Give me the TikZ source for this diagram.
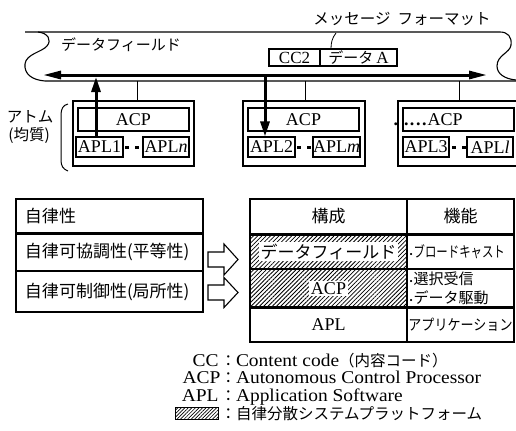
\documentclass[tikz,border=0pt]{standalone}
\usepackage{fontspec}
\setmainfont{Liberation Serif}
\newfontfamily\jp{Noto Sans CJK JP}
\usetikzlibrary{arrows.meta,patterns.meta}
\newcommand\fsz[1]{\fontsize{#1bp}{#1bp}\selectfont}
\begin{document}
\begin{tikzpicture}[x=1bp,y=-1bp,line width=1bp,
  box/.style={draw,line width=1.1bp,inner sep=0pt},
  lat/.style={font=\fsz{18}},
  jtxt/.style={font=\jp\fsz{#1}},
  bigarr/.style={line width=3bp,-{Triangle[length=15bp,width=9bp]}},
  thinln/.style={line width=1bp},
  dotsq/.style={fill=black,inner sep=0pt,minimum width=4bp,minimum height=3bp},
  hatch/.style={pattern={Lines[angle=45,distance=3bp,line width=0.8bp]}},
  rowbox/.style={draw,line width=1.1bp,inner ysep=0pt,inner xsep=9bp,text width=169bp,align=left,font=\jp\fsz{17}},
  cell/.style={draw,line width=1.1bp,inner sep=0pt},
  hollow/.style={draw,line width=1.1bp,fill=white},
  legk/.style={anchor=base east,font=\fsz{18},inner sep=0pt},
  legv/.style={anchor=base west,font=\fsz{18},inner sep=0pt}]
\useasboundingbox (0,0) rectangle (516,430);

% ---- data field band
\draw[line width=1.1bp] (25,32) -- (500,32)
  .. controls (508,32) and (512,37) .. (511,45)
  .. controls (510,53) and (497,55) .. (497,66)
  .. controls (497,74) and (505,79) .. (516,80);
\draw[line width=1.1bp] (38,32) .. controls (48,33) and (52,40) .. (47,46)
  .. controls (42,52) and (26,54) .. (25,64)
  .. controls (24,74) and (32,80) .. (45,81) -- (516,81);
\node[jtxt=15] (dflabel) at (121,45) {データフィールド};

\coordinate (dl) at (43,75);
\coordinate (dr) at (487,75);
\draw[line width=3bp,{Triangle[length=18bp,width=8bp]}-{Triangle[length=18bp,width=8bp]}] (dl) -- (dr);

% ---- message format
\node[box,minimum width=51bp,minimum height=17bp,font=\fsz{17}] (cc2) at (294.5,57.5) {CC2};
\node[box,minimum width=77bp,minimum height=17bp,font=\fsz{17}] (datA) at (358.5,57.5) {{\jp\fsz{15}データ}\,A};
\node[jtxt=15.5] (msglabel) at (402,19) {メッセージ\hspace{7bp}フォーマット};
\coordinate (ml) at (336,33);
\coordinate (mlx) at (331,0);
\draw[line width=0.8bp] (ml) .. controls (332,38) and (331,43) .. (datA.north -| mlx);

% ---- atoms
\node[box,minimum width=121bp,minimum height=65bp] (out1) at (133.5,133.5) {};
\node[box,minimum width=122bp,minimum height=65bp] (out2) at (304,133.5) {};
\node[box,minimum width=124bp,minimum height=65bp] (out3) at (460,133.5) {};

\node[box,minimum width=111bp,minimum height=23bp,lat] (acp1) at (133.5,119.5) {ACP};
\node[box,minimum width=111bp,minimum height=23bp,lat] (acp2) at (303.5,119.5) {ACP};
\node[box,minimum width=111bp,minimum height=23bp] (acp3) at (458.5,119.5) {};
\node[lat,anchor=west,inner sep=0pt] (acp3t) at (393,120) {\textbf{.}\kern6bp\textbf{.}\kern1.5bp\textbf{.}\kern1.5bp\textbf{.}\kern1.5bp\textbf{.}\kern1bp ACP};

\node[box,minimum width=47bp,minimum height=20bp,lat] (apl1) at (99.5,147) {APL1};
\node[box,minimum width=46bp,minimum height=20bp,lat] (apln) at (166,147) {APL\textit{n}};
\node[box,minimum width=47bp,minimum height=20bp,lat] (apl2) at (271.5,147) {APL2};
\node[box,minimum width=47bp,minimum height=20bp,lat] (aplm) at (336.5,147) {APL\textit{m}};
\node[box,minimum width=46bp,minimum height=20bp,lat] (apl3) at (426,147) {APL3};
\node[box,minimum width=46bp,minimum height=20bp,lat] (apll) at (490,147) {APL\textit{l}};

\node[dotsq] (d1a) at (127,147) {};
\node[dotsq] (d1b) at (137,147) {};
\node[dotsq] (d2a) at (299,147) {};
\node[dotsq] (d2b) at (309,147) {};
\node[dotsq] (d3a) at (454,147) {};
\node[dotsq] (d3b) at (464,147) {};

% connectors
\coordinate (a1) at (96,77);
\coordinate (a2) at (265,75);
\coordinate (t1) at (137,81);
\coordinate (t2) at (305,81);
\coordinate (t3) at (459,81);
\draw[bigarr] (apl1.north -| a1) -- (a1);
\draw[bigarr] (a2) -- (apl2.north -| a2);
\draw[thinln] (t1) -- (out1.north -| t1);
\draw[thinln] (t2) -- (out2.north -| t2);
\draw[thinln] (t3) -- (out3.north -| t3);

% atom label and brace
\node[jtxt=15.5] (atom) at (30,117) {アトム};
\node[jtxt=15.5] (kinshitsu) at (29,136) {(均質)};
\draw[line width=1bp] (68,104) .. controls (63,105) and (61,109) .. (61,115) -- (61,160)
  .. controls (61,166) and (63,169) .. (68,171);

% ---- left table
\node[rowbox,minimum height=34bp] (l1) at (109.5,216) {自律性};
\node[rowbox,minimum height=38bp] (l2) at (109.5,252) {自律可協調性(平等性)};
\node[rowbox,minimum height=41bp] (l3) at (109.5,291.5) {自律可制御性(局所性)};
\draw[line width=2bp] (l1.south west) -- (l1.south east);

% ---- hollow arrows
\draw[hollow] (208,252) -- (224,252) -- (224,244) -- (238,259.5) -- (224,275) -- (224,267) -- (208,267) -- cycle;
\draw[hollow] (208,285) -- (224,285) -- (224,277.5) -- (238,292.5) -- (224,307.5) -- (224,300) -- (208,300) -- cycle;

% ---- right table
\node[cell,minimum width=157bp,minimum height=35bp,jtxt=17] (h1) at (328.5,216.5) {構成};
\node[cell,minimum width=107bp,minimum height=35bp,jtxt=17] (h2) at (460.5,216.5) {機能};
\node[cell,hatch,minimum width=157bp,minimum height=35bp] (r1a) at (328.5,251.5) {};
\node[cell,minimum width=107bp,minimum height=35bp] (r1b) at (460.5,251.5) {};
\node[cell,hatch,minimum width=157bp,minimum height=39bp] (r2a) at (328.5,288.5) {};
\node[cell,minimum width=107bp,minimum height=39bp] (r2b) at (460.5,288.5) {};
\node[cell,minimum width=157bp,minimum height=34bp,lat] (r3a) at (328.5,325) {APL};
\node[cell,minimum width=107bp,minimum height=34bp] (r3b) at (460.5,325) {};
\draw[line width=2bp] (h1.south west) -- (h2.south east);
\draw[line width=2bp] (r3a.north west) -- (r3b.north east);

\node[fill=white,inner sep=1.5bp,jtxt=17] (t1a) at (r1a) {データフィールド};
\node[fill=white,inner sep=1.5bp,lat] (t2a) at (r2a) {ACP};
\node[anchor=west,inner sep=0pt] (t1b) at (409,251.5) {\fsz{9}\textbullet\hspace{1bp}\scalebox{0.76}[1]{\jp\fsz{15}ブロードキャスト}};
\node[anchor=west,inner sep=0pt] (t2b1) at (409,279) {\fsz{9}\textbullet\hspace{1bp}{\jp\fsz{15}選択受信}};
\node[anchor=west,inner sep=0pt] (t2b2) at (409,297.5) {\fsz{9}\textbullet\hspace{1bp}{\jp\fsz{15}データ駆動}};
\node[inner sep=0pt] (t3b) at (r3b) {\scalebox{0.87}[1]{\jp\fsz{15}アプリケーション}};

% ---- legend
\node[legk] (kcc) at (219,366) {\scalebox{1.08}[1]{CC}};
\node[legk] (kacp) at (221,383.5) {\scalebox{1.08}[1]{ACP}};
\node[legk] (kapl) at (219,401) {\scalebox{1.08}[1]{APL}};
\node[draw,line width=0.8bp,pattern={Lines[angle=45,distance=2.5bp,line width=0.7bp]},minimum width=43bp,minimum height=12bp,inner sep=0pt] (khatch) at (196.5,413.5) {};
\node[legv] (vcc) at (220,366) {{\jp\fsz{15.5}：}\scalebox{1.08}[1]{Content code}{\jp\fsz{15.5}（内容コード）}};
\node[legv] (vacp) at (220,383.5) {{\jp\fsz{15.5}：}\scalebox{1.08}[1]{Autonomous Control Processor}};
\node[legv] (vapl) at (220,401) {{\jp\fsz{15.5}：}\scalebox{1.08}[1]{Application Software}};
\node[anchor=base west,inner sep=0pt] (vhatch) at (220,419) {\jp\fsz{15.5}：自律分散システムプラットフォーム};
\end{tikzpicture}
\end{document}
